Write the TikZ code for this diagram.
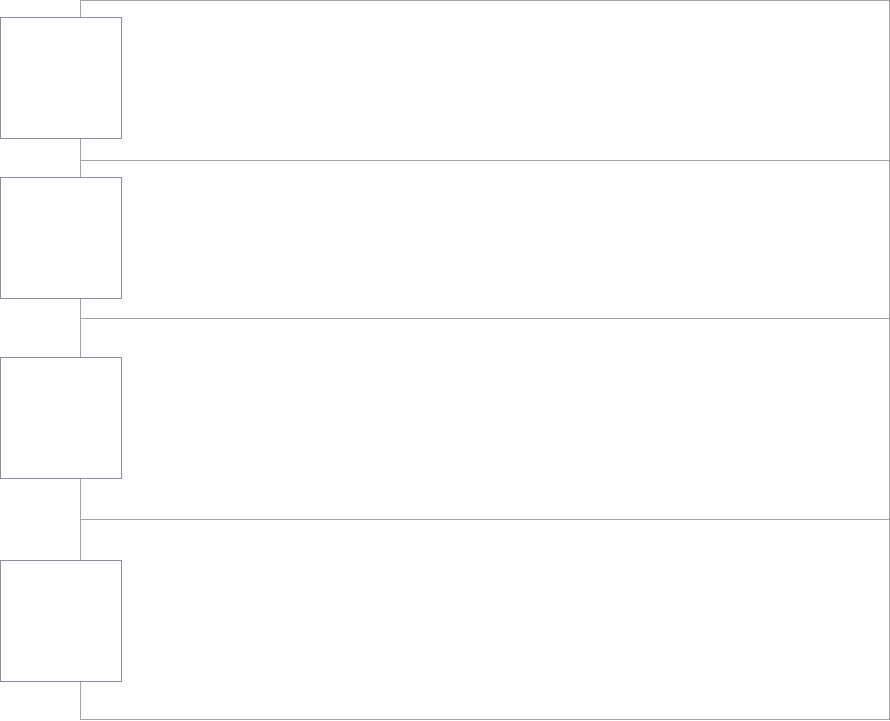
\documentclass[tikz,border=0pt]{standalone}
\usepackage{xcolor}
\usepackage{tikz}
\usetikzlibrary{positioning}

\definecolor{panelgray}{HTML}{A3A3A6}
\definecolor{boxgray}{HTML}{8C8C9C}

\begin{document}
\begin{tikzpicture}[x=0.03cm, y=0.03cm,
			panel/.style={draw=panelgray, line width=0.8pt, minimum width=809*0.03cm, anchor=north west, inner sep=0pt, outer sep=0pt},
			stepbox/.style={draw=boxgray, fill=white, line width=0.8pt, minimum width=121*0.03cm, minimum height=121*0.03cm, inner sep=0pt}]
			
			\useasboundingbox (0,0) rectangle (890,720);
			
			\node (p1) [panel, minimum height=160*0.03cm] at (80.5,719.5) {};
			\node (p2) [panel, minimum height=158*0.03cm] at (80.5,560) {};
			\node (p3) [panel, minimum height=201*0.03cm] at (80.5,402) {};
			\node (p4) [panel, minimum height=200*0.03cm] at (80.5,201) {};
			
			\node (s1) [stepbox] at (61,642.5) {};
			\node (s2) [stepbox] at (61,482) {};
			\node (s3) [stepbox] at (61,302) {};
			\node (s4) [stepbox] at (61,99) {};
		\end{tikzpicture}
\end{document}
